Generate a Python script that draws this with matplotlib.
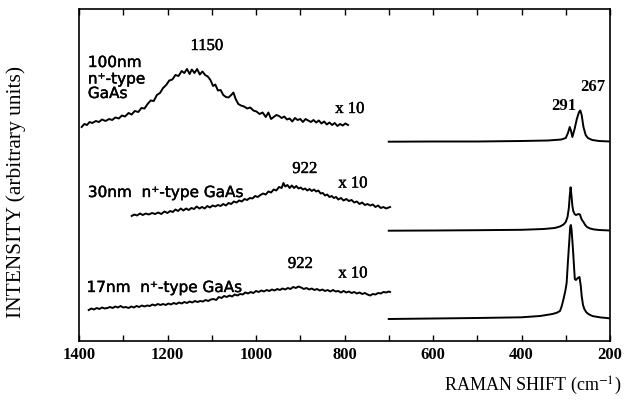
import matplotlib
matplotlib.use("Agg")
import matplotlib.pyplot as plt
import matplotlib.patheffects as pe
from matplotlib.ticker import MultipleLocator

plt.rcParams["mathtext.fontset"] = "stix"

# ---- broad electronic bands (x10), 100 nm sample ----
shift_100_low = [1394, 1388, 1382, 1376, 1370, 1362, 1355, 1348, 1340, 1332, 1325, 1318, 1310, 1303,
                 1296, 1288, 1281, 1274, 1266, 1259, 1252, 1245, 1238, 1231, 1224, 1217, 1210, 1203,
                 1196, 1189, 1182, 1175, 1168, 1162, 1156, 1150, 1145, 1139, 1133, 1127, 1121, 1115,
                 1109, 1103, 1097, 1092, 1086, 1080, 1074, 1068, 1062, 1056, 1051, 1046, 1040, 1034,
                 1027, 1020, 1013, 1006, 999, 992, 985, 978, 972, 966, 960, 954, 948, 942, 936, 930,
                 924, 918, 912, 906, 900, 894, 888, 882, 876, 870, 864, 858, 852, 846, 840, 834, 828,
                 822, 816, 810, 804, 798, 792]
int_100_low = [214, 217, 216, 219, 218, 220, 219, 221.5, 220, 222, 221, 223.5, 222.5, 225.5,
               224.5, 228, 226.5, 230, 229, 233, 232.5, 237, 240.5, 240, 246, 248, 253, 256,
               260.5, 261.5, 266, 265, 270, 268, 272, 267, 271.5, 268, 272, 266.5, 269.5, 266,
               264.5, 261, 255, 256.5, 250.5, 251, 246, 244, 243.5, 246, 248.5, 242, 237, 235.5,
               234.5, 232.5, 233.5, 230.5, 229.5, 227, 228.5, 224, 228.5, 222, 224, 226, 225, 223, 224.5, 221.5,
               222.5, 219.5, 223, 221, 222, 219, 222, 220.5, 219, 221, 218.5, 220.5, 217.5, 219.5, 216.5, 218.5, 216,
               218, 215, 217, 215.5, 217.5, 216]

# ---- 30 nm sample ----
shift_30_low = [1281, 1275, 1269, 1262, 1256, 1249, 1242, 1235, 1228, 1221, 1214, 1207, 1200, 1194,
                1188, 1182, 1176, 1170, 1164, 1158, 1152, 1146, 1140, 1134, 1128, 1122, 1116, 1110,
                1104, 1098, 1092, 1086, 1080, 1074, 1068, 1062, 1056, 1050, 1044, 1038, 1032, 1026,
                1020, 1014, 1008, 1002, 996, 990, 984, 978, 972, 966, 960, 954, 948, 942, 938, 934,
                929, 924, 919, 914, 909, 904, 899, 894, 889, 884, 879, 874, 869, 864, 859, 854, 849,
                844, 839, 834, 829, 824, 819, 814, 808, 802, 796, 790, 784, 778, 772, 766, 760, 754,
                748, 742, 736, 730, 724, 718, 712, 706, 700, 697]
int_30_low = [125, 126.5, 125.5, 127.5, 126, 127.5, 126.5, 128, 127, 128.5, 127, 129.5, 128, 130,
              129, 131.5, 130, 132.5, 130.5, 132.5, 131, 133, 132, 134.5, 132.5, 134, 132.5, 135,
              133.5, 135.5, 134.5, 136, 135, 137, 135.5, 138, 137, 139.5, 138.5, 140.5, 139.5, 142,
              141, 143, 142.5, 145, 144, 146, 147.5, 146.5, 149.5, 148.5, 151.5, 150.5, 154, 153, 158, 154.5,
              156, 153, 155.5, 153, 155, 152.5, 153.5, 151.5, 152.5, 150.5, 152, 150, 151.5, 149.5, 150.5, 147.5, 148,
              145.5, 146.5, 144, 145, 143, 144, 141.5, 143, 140.5, 142, 140, 141, 138.5, 139.5, 137, 138.5, 136,
              137, 135.5, 136.5, 134, 135.5, 133, 134, 132.5, 133.5, 134]

# ---- 17 nm sample ----
shift_17_low = [1378, 1372, 1366, 1360, 1354, 1348, 1342, 1336, 1330, 1324, 1318, 1312, 1306, 1300,
                1294, 1288, 1282, 1276, 1270, 1264, 1258, 1252, 1246, 1240, 1234, 1228, 1222, 1216,
                1210, 1204, 1198, 1192, 1186, 1180, 1174, 1168, 1162, 1156, 1150, 1144, 1138, 1132,
                1126, 1120, 1114, 1108, 1102, 1096, 1090, 1084, 1078, 1072, 1066, 1060, 1054, 1048,
                1042, 1036, 1030, 1024, 1018, 1012, 1006, 1000, 994, 988, 982, 976, 970, 964, 958,
                952, 946, 940, 934, 928, 922, 916, 910, 904, 898, 892, 886, 880, 874, 868, 862, 856,
                850, 844, 838, 832, 826, 820, 814, 808, 802, 796, 790, 784, 778, 772, 766, 760, 754,
                748, 742, 736, 730, 724, 718, 712, 706, 700, 697]
int_17_low = [31, 32.5, 31.5, 33, 32, 33.5, 32.5, 33, 34, 33, 34.5, 33.5, 35, 33.5,
              34, 33, 34.5, 33.5, 35, 34, 35.5, 34.5, 35.5, 35, 36.5, 35.5, 37, 36,
              37, 36, 37.5, 36.5, 38, 37, 38.5, 37.5, 39, 38, 39.5, 38.5, 40, 39,
              40, 39.5, 41, 40, 41.5, 42, 41, 44, 43, 45, 44, 45.5, 44.5, 46.5,
              45.5, 47, 46.5, 48.5, 47.5, 49, 48, 50, 49, 50.5, 49.5, 51, 50, 51.5, 50.5,
              52, 51, 52.5, 51.5, 53, 52, 54, 53, 54.5, 53.5, 52, 53, 51.5, 52.5, 51, 52, 50.5,
              51.5, 50, 51, 49.5, 51, 49.5, 50, 48.5, 50, 48.5, 49.5, 48, 49, 47.5, 48.5, 47, 48,
              46.5, 45.5, 47, 46.5, 48, 47.5, 49, 48.5, 49.5, 49]

# ---- phonon region (unscaled) ----
shift_100_ph = [700, 600, 500, 400, 340, 310, 300, 295, 291, 288, 285, 280, 275, 270, 267, 264,
                260, 255, 250, 240, 225, 200]
int_100_ph = [199.3, 199.5, 199.5, 200, 200.5, 201.5, 203, 208, 214, 210, 204, 212, 222, 229,
              230.5, 226, 214, 206, 203, 201, 200, 199.5]

shift_30_ph = [700, 600, 500, 400, 350, 325, 313, 305, 300, 296, 293, 291, 289, 287, 285, 283,
               280, 277, 274, 271, 268, 264, 260, 256, 252, 245, 238, 225, 200]
int_30_ph = [110.3, 110.5, 110.8, 111.2, 112, 113, 114.5, 116.5, 119, 124, 133, 145, 153.7, 145,
             135, 130, 127, 126, 126.5, 127, 126.5, 121.5, 119, 116, 114, 112.5, 111.7, 111, 110.5]

shift_17_ph = [700, 600, 500, 400, 358, 330, 320, 313, 309, 305, 301, 298, 295, 292, 290, 288.5,
               287, 285, 283, 281, 279.5, 277, 274, 271, 269, 266, 264, 261, 258, 254, 249, 240,
               234, 220, 207, 200]
int_17_ph = [22, 22.5, 23, 23.7, 25, 27, 28.3, 30, 35, 42, 50, 58, 80, 100, 114, 116,
             112, 100, 87, 72, 62, 61, 62.5, 63.5, 64, 55, 45, 36, 32, 29, 27, 25,
             24.5, 23.5, 23, 22.5]

xticks = [1400, 1200, 1000, 800, 600, 400, 200]

fig = plt.figure(figsize=(6.36, 4.05), dpi=100)
ax = fig.add_axes([79 / 636, 1 - 341 / 405, 531 / 636, 332 / 405])

lw = 1.4
for xs, ys in [(shift_100_low, int_100_low), (shift_30_low, int_30_low), (shift_17_low, int_17_low),
               (shift_100_ph, int_100_ph), (shift_30_ph, int_30_ph), (shift_17_ph, int_17_ph)]:
    ax.plot(xs, ys, color="black", lw=lw, solid_joinstyle="round")

ax.set_xlim(1400, 200)
ax.set_ylim(0, 332)
ax.set_xticks(xticks)
ax.set_xticklabels([str(t) for t in xticks], fontfamily="Liberation Serif",
                   fontweight="bold", fontsize=12)
ax.xaxis.set_minor_locator(MultipleLocator(100))
ax.tick_params(axis="x", which="both", direction="in", top=True, bottom=True,
               length=4, width=1, pad=4)
ax.set_yticks([])
for s in ax.spines.values():
    s.set_linewidth(1.2)

heavy = [pe.withStroke(linewidth=0.3, foreground="black")]
sans = dict(fontfamily="DejaVu Sans", fontsize=11, color="black", path_effects=heavy)
serif = dict(fontfamily="Liberation Serif", fontsize=12, color="black", path_effects=heavy)
serif_b = dict(fontfamily="Liberation Serif", fontsize=12, fontweight="bold", color="black")

ax.text(1380, 274, "100nm", ha="left", va="baseline", **sans)
ax.text(1380, 257.5, "n\u207a-type", ha="left", va="baseline", **sans)
ax.text(1380, 243, "GaAs", ha="left", va="baseline", **sans)
ax.text(1111, 291, "1150", ha="center", va="baseline", **serif)
ax.text(788, 228, "x 10", ha="center", va="baseline", **serif)

ax.text(1380, 144, "30nm  n\u207a-type GaAs", ha="left", va="baseline", **sans)
ax.text(890, 168, "922", ha="center", va="baseline", **serif)
ax.text(781, 153.5, "x 10", ha="center", va="baseline", **serif)

ax.text(1383, 49, "17nm  n\u207a-type GaAs", ha="left", va="baseline", **sans)
ax.text(900, 73, "922", ha="center", va="baseline", **serif)
ax.text(781, 63.5, "x 10", ha="center", va="baseline", **serif)

ax.text(305, 231, "291", ha="center", va="baseline", **serif_b)
ax.text(238, 250, "267", ha="center", va="baseline", **serif_b)

fig.text(16 / 636, 1 - 192 / 405, "INTENSITY (arbitrary units)", rotation=90,
         ha="center", va="center", fontfamily="Liberation Serif", fontsize=15.5)
fig.text(533 / 636, 1 - 386 / 405, "RAMAN SHIFT (cm$^{-1}$)", ha="center", va="center",
         fontfamily="Liberation Serif", fontsize=13)

fig.savefig("out.png", dpi=100)
